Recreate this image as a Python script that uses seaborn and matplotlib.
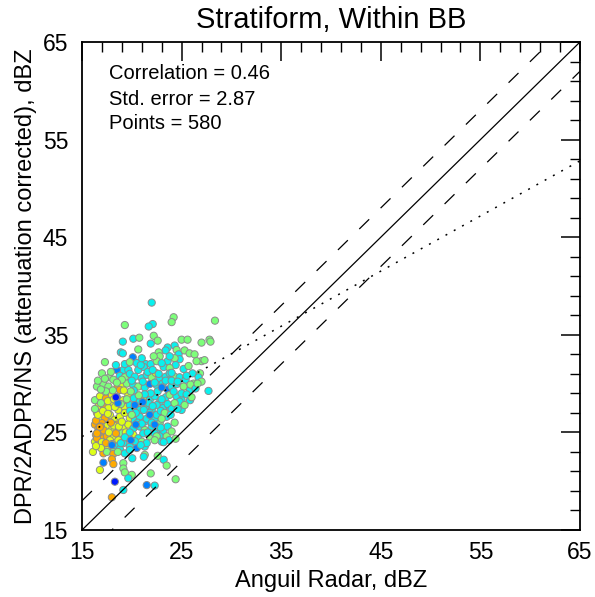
import numpy as np
import pandas as pd
import matplotlib
matplotlib.use("Agg")
import matplotlib.pyplot as plt
import seaborn as sns

# Ground radar (x) vs DPR attenuation-corrected reflectivity (y), dBZ,
# with a colour level per matched sample. Each line of the three lists
# below holds the same samples.
radar_dbz = [
    22.0, 24.2, 24.0, 28.35, 19.3, 22.1, 21.7,
    19.1, 20.15, 20.75, 22.2, 22.6, 21.9, 24.3, 25.0, 25.6, 27.0, 27.8, 27.9,
    20.65, 18.9, 19.1, 23.6, 24.5, 23.4,
    20.1, 17.3, 22.7, 22.8, 24.7, 25.3, 25.8, 26.3, 27.0, 27.3, 24.8, 24.3,
    23.6, 24.4, 21.4, 21.9, 22.5, 19.15, 18.5, 19.65, 20.65, 21.2, 23.2, 23.8,
    25.2, 26.1, 26.85,
    17.0, 17.75, 18.15, 18.8, 19.3, 19.8, 20.3, 21.0, 21.5, 22.0, 22.4, 22.8,
    23.4, 23.8, 24.3, 24.8, 25.4, 26.7, 27.0,
    16.5, 17.15, 17.65, 18.55, 19.0, 19.5, 20.15, 20.65, 21.3, 21.8, 22.5,
    23.1, 23.6, 24.0, 24.5, 25.2, 25.85, 26.2, 27.7,
    16.3, 16.8, 17.4, 18.0, 18.5, 18.8, 19.15, 19.65, 20.2, 20.8, 21.3, 21.8,
    22.3, 22.8, 23.4, 23.8, 24.5, 25.0, 25.85,
    16.65, 17.15, 17.65, 18.15, 18.65, 19.3, 19.8, 20.3, 20.8, 21.5, 22.0,
    22.5, 23.15, 23.75, 24.8, 25.0,
    16.5, 16.8, 17.3, 17.8, 18.3, 18.8, 19.3, 19.8, 20.3, 20.8, 21.3, 21.8,
    22.3, 22.8, 23.5, 24.3,
    16.3, 16.65, 17.0, 17.5, 18.0, 18.5, 19.15, 19.65, 20.15, 20.8, 21.3,
    22.0, 22.65, 23.15,
    16.4, 16.8, 17.15, 17.65, 18.15, 18.65, 19.0, 19.5, 20.15, 20.65, 21.15,
    21.8, 22.3, 22.8, 23.5,
    16.3, 16.8, 17.3, 17.8, 18.5, 19.15, 19.8, 20.5, 21.0, 21.3, 22.5,
    16.1, 17.15, 17.5, 18.15, 18.8, 19.3, 19.8, 21.3,
    17.5, 18.15, 18.0, 17.15, 18.15, 19.15, 20.05, 16.8, 19.15, 19.3, 20.0,
    19.65, 18.3, 21.5, 22.3, 21.9, 22.6, 23.2, 23.5, 24.4, 23.0, 23.75, 24.4,
    19.15, 18.0, 21.2,
    16.4, 16.6, 16.9, 17.2, 17.5, 16.5, 17.0, 17.7, 18.2, 18.4, 17.9, 16.6,
    17.1, 17.6, 18.3, 18.9, 18.7, 19.0, 19.4, 19.7, 18.9, 17.8, 17.4, 16.9,
    16.4, 18.0, 16.3, 16.9, 17.6, 18.2, 18.6, 19.5, 19.8, 20.4, 20.0, 20.6,
    21.0, 21.5, 21.2, 21.7, 22.1, 22.5, 22.9, 23.3, 23.6, 24.0, 24.3, 23.0,
    22.6, 21.9, 21.3, 20.7, 20.2, 19.9, 19.2, 18.1, 17.4, 16.9, 16.6, 17.3,
    17.9, 18.4, 19.3, 19.8, 20.5, 20.9, 21.6, 22.1, 22.7, 23.4, 24.0, 24.6,
    25.0, 25.5, 25.3, 24.6, 23.9, 23.0, 22.0, 21.6, 22.3, 21.5, 20.9, 20.3,
    19.8, 20.4, 19.3, 18.6, 23.6, 23.2, 24.0, 22.9, 20.0, 19.0, 18.5, 21.1,
    22.3, 23.0, 24.2, 25.9, 26.4, 26.0, 25.5, 26.6, 21.0, 22.2, 23.0, 23.8,
    24.0, 25.7, 26.5,
    18.4, 20.3, 18.0, 21.8, 22.3, 19.9, 21.1, 16.8, 16.5,
]
dpr_dbz = [
    38.3, 36.8, 36.3, 36.45, 36.0, 36.1, 35.85,
    34.3, 34.6, 34.7, 34.9, 34.4, 34.1, 33.9, 34.5, 34.5, 34.2, 34.5, 34.3,
    33.5, 33.2, 33.1, 33.7, 33.45, 33.4,
    32.7, 32.2, 33.2, 32.8, 33.0, 33.4, 33.1, 33.0, 32.3, 32.4, 32.5, 32.6,
    32.3, 31.9, 32.0, 32.0, 32.3, 31.4, 31.4, 31.4, 31.4, 31.7, 31.7, 31.6,
    31.5, 31.05, 31.05,
    31.05, 30.65, 30.4, 30.8, 30.65, 31.0, 30.7, 30.55, 30.9, 30.65, 31.1, 30.55,
    30.7, 31.05, 30.7, 30.65, 30.4, 30.65, 30.2,
    29.7, 29.95, 29.7, 29.6, 29.85, 30.0, 29.85, 29.7, 29.6, 29.95, 29.85,
    30.0, 29.4, 29.7, 29.95, 29.7, 29.35, 30.0, 29.25,
    28.3, 28.7, 28.5, 28.85, 28.6, 29.35, 28.3, 28.85, 28.5, 28.15, 28.65, 28.3,
    28.7, 28.05, 28.6, 28.85, 28.7, 28.3, 28.3,
    27.65, 27.8, 27.5, 28.0, 27.3, 27.6, 27.8, 27.5, 27.3, 27.7, 27.3,
    27.8, 27.5, 27.7, 28.15, 27.3,
    27.0, 26.3, 26.45, 26.8, 26.3, 26.6, 27.0, 26.45, 26.2, 26.6, 26.1, 27.0,
    26.3, 25.95, 26.6, 26.0,
    25.8, 25.4, 25.95, 25.65, 25.3, 25.8, 25.4, 25.8, 25.4, 25.6, 25.25,
    25.6, 25.25, 25.1,
    24.75, 24.9, 24.4, 24.9, 24.6, 24.2, 24.9, 24.4, 24.75, 24.4, 24.9,
    24.6, 24.9, 24.6, 24.6,
    24.05, 23.9, 23.55, 23.7, 23.55, 23.9, 23.55, 23.4, 24.05, 23.55, 24.6,
    23.0, 22.85, 23.2, 23.0, 23.3, 22.85, 23.2, 22.7,
    23.0, 22.8, 22.25, 21.9, 21.75, 21.85, 22.35, 21.15, 21.3, 20.9, 20.65,
    20.3, 19.95, 19.6, 19.55, 20.8, 22.6, 22.2, 21.6, 20.2, 24.05, 24.2, 24.35,
    19.1, 18.35, 22.5,
    26.2, 25.0, 25.6, 25.2, 24.6, 24.4, 24.0, 25.0, 25.7, 24.9, 26.0, 26.8,
    27.2, 26.9, 27.6, 27.9, 25.6, 26.1, 25.0, 24.4, 23.9, 24.2, 23.9, 23.4,
    23.6, 23.8, 27.4, 28.0, 28.2, 28.4, 28.0, 28.4, 27.2, 27.0, 26.8, 26.0,
    25.9, 26.4, 27.3, 28.0, 27.7, 26.8, 27.2, 27.0, 27.9, 27.4, 28.0, 28.4,
    29.2, 29.0, 28.9, 28.8, 29.3, 29.2, 29.3, 29.3, 29.2, 29.4, 30.3, 30.5,
    31.2, 31.9, 32.0, 32.2, 32.1, 31.9, 31.2, 31.4, 31.0, 30.3, 30.3, 30.2,
    29.0, 28.9, 27.8, 27.4, 26.8, 26.4, 26.0, 25.0, 24.2, 23.9, 23.7, 24.1,
    25.0, 25.8, 24.5, 23.0, 25.6, 24.0, 25.1, 25.5, 30.3, 30.4, 30.1, 30.2,
    30.1, 29.6, 29.2, 29.9, 29.5, 28.6, 30.8, 30.0, 32.6, 32.8, 32.1, 32.8,
    31.1, 31.8, 32.3,
    28.6, 27.8, 23.7, 26.8, 25.8, 24.2, 28.1, 25.55, 24.9,
]
# o orange, y yellow, g light green, c cyan, b blue, d deep blue
level_codes = "".join([
    "cggggcc",
    "ccgggccggggg",
    "gcccgc",
    "bgggcgggggcg",
    "ccccgcbccccg",
    "ccg",
    "gggcgccccgyc",
    "ccgcccg",
    "gggoygcgcbc",
    "cbccgcgc",
    "gyoyboyyccyc",
    "cccgccc",
    "yoyyyycyccc",
    "ccccc",
    "yyoyyyyycccc",
    "cgcg",
    "oooyyoyyccg",
    "ccc",
    "oooyyygyycc",
    "gccg",
    "yoyycccbgcg",
    "yoygcccg",
    "goobogcyggg",
    "cdbcggcggccg",
    "coc",
    "ooooooyyyooy",
    "yyygyyyycyoy",
    "yyggyybgccgc",
    "cccccccgccgc",
    "cccgcgyggggg",
    "gccgcccccccc",
    "ccgccgccgccc",
    "cbcgccgccggc",
    "cbcgcgcgcgcc",
    "cgg",
    "dbbbbbboo",
])

x_ticks = [15, 25, 35, 45, 55, 65]
y_ticks = [15, 25, 35, 45, 55, 65]
minor_ticks = [v for v in range(17, 65, 2) if v not in x_ticks]

# Fitted line (intercept, slope) and bias envelope (dBZ)
fit_intercept, fit_slope = 16.1, 0.565
bias_band = 3.0

stats_lines = ["Correlation = 0.46", "Std. error = 2.87", "Points = 580"]

code_level = {"d": 0.15, "b": 0.25, "c": 0.36, "g": 0.50, "y": 0.62, "o": 0.73}

n = min(len(radar_dbz), len(dpr_dbz), len(level_codes))
df = pd.DataFrame({
    "radar": radar_dbz[:n],
    "dpr": dpr_dbz[:n],
    "level": [code_level[ch] for ch in level_codes[:n]],
})

sns.set_theme(style="white")
plt.rcParams["font.family"] = ["Liberation Sans", "DejaVu Sans"]
plt.rcParams["lines.scale_dashes"] = False
for key in ("text.color", "axes.labelcolor", "xtick.color", "ytick.color"):
    plt.rcParams[key] = "black"

fig = plt.figure(figsize=(5.95, 5.97), dpi=100)
ax = fig.add_axes([82 / 595, 1 - 530 / 597, 498 / 595, 488 / 597])

sns.scatterplot(data=df, x="radar", y="dpr", hue="level",
                palette=matplotlib.colormaps["jet"],
                hue_norm=(0.0, 1.0), legend=False, s=27,
                edgecolor="#8c8c8c", linewidth=0.7, ax=ax, zorder=2)

xs = np.array([x_ticks[0], x_ticks[-1]], dtype=float)
ax.plot(xs, xs, color="black", lw=0.9, zorder=3)
ax.plot(xs, xs + bias_band, color="black", lw=0.9,
        linestyle=(0, (10, 11.5)), zorder=3)
ax.plot(xs, xs - bias_band, color="black", lw=0.9,
        linestyle=(0, (10, 11.5)), zorder=3)
ax.plot(xs, fit_intercept + fit_slope * xs, color="black", lw=1.1,
        linestyle=(0, (1.4, 5.4)), zorder=3)

ax.set_xlim(x_ticks[0], x_ticks[-1])
ax.set_ylim(y_ticks[0], y_ticks[-1])
ax.set_xticks(x_ticks)
ax.set_yticks(y_ticks)
ax.set_xticks(minor_ticks, minor=True)
ax.set_yticks(minor_ticks, minor=True)
ax.set_xticklabels([str(t) for t in x_ticks], fontsize=16.5)
ax.set_yticklabels([str(t) for t in y_ticks], fontsize=16.5)
ax.tick_params(which="major", direction="in", length=14, width=1.1,
               top=True, right=True, color="black")
ax.tick_params(which="minor", direction="in", length=7, width=1.0,
               top=True, right=True, color="black")
ax.tick_params(axis="x", which="major", pad=8)
ax.tick_params(axis="y", which="major", pad=10)
for sp in ax.spines.values():
    sp.set_visible(True)
    sp.set_color("black")
    sp.set_linewidth(1.3)

ax.set_xlabel("Anguil Radar, dBZ", fontsize=17, labelpad=4)
ax.set_ylabel("DPR/2ADPR/NS (attenuation corrected), dBZ", fontsize=17,
              labelpad=4)
ax.set_title("Stratiform, Within BB", fontsize=21, pad=10)

for line, yb in zip(stats_lines, [0.924, 0.871, 0.822]):
    ax.text(0.054, yb, line, transform=ax.transAxes, fontsize=14.5,
            ha="left", va="baseline")

fig.savefig("out.png", dpi=100, facecolor="white")
